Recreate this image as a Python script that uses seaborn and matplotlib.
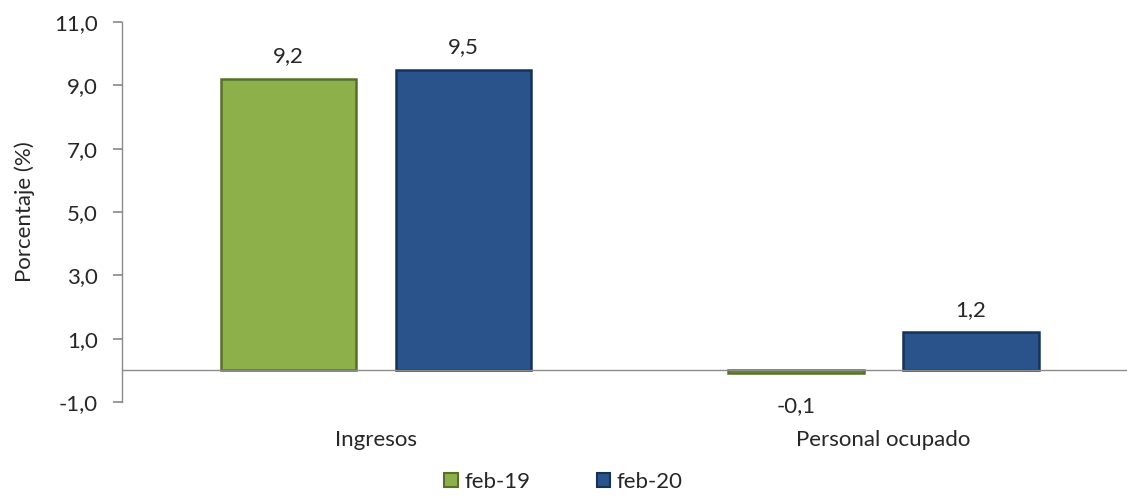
import matplotlib
matplotlib.use("Agg")
import matplotlib.pyplot as plt
import seaborn as sns
import pandas as pd
from matplotlib.patches import Patch

categories = ["Ingresos", "Personal ocupado"]
series = ["feb-19", "feb-20"]
values_feb19 = [9.2, -0.1]
values_feb20 = [9.5, 1.2]
yticks = [-1, 1, 3, 5, 7, 9, 11]

sns.set_theme(style="white")
plt.rcParams['font.family'] = ['Lato', 'DejaVu Sans']

df = pd.DataFrame({
    "cat": categories * 2,
    "serie": [series[0]] * 2 + [series[1]] * 2,
    "val": values_feb19 + values_feb20,
})

face = {"feb-19": "#8DB04A", "feb-20": "#29538A"}
edge = {"feb-19": "#56702B", "feb-20": "#16325A"}
FS = 16

fig = plt.figure(figsize=(11.27, 4.98), dpi=100)
ax = fig.add_axes([0.1083, 0.1928, 0.8917, 0.763])

sns.barplot(data=df, x="cat", y="val", hue="serie", palette=face, saturation=1,
            width=0.69, gap=0.226, ax=ax, legend=False)

for cont, s in zip(ax.containers, series):
    for bar in cont:
        bar.set_edgecolor(edge[s])
        bar.set_linewidth(1.8)
    labels = [f"{v:.1f}".replace(".", ",") for v in cont.datavalues]
    for bar, lab, v in zip(cont, labels, cont.datavalues):
        x = bar.get_x() + bar.get_width() / 2
        if v >= 0:
            ax.annotate(lab, (x, v), xytext=(0, 9), textcoords="offset points",
                        ha="center", va="bottom", fontsize=FS)
        else:
            ax.annotate(lab, (x, v), xytext=(0, -16), textcoords="offset points",
                        ha="center", va="top", fontsize=FS)

ax.set_xlim(-0.5, 1.48)
ax.set_ylim(-1, 11)
ax.set_yticks(yticks)
ax.set_yticklabels([f"{t:.1f}".replace(".", ",") for t in yticks], fontsize=FS)
ax.axhline(0, color="#8C8C8C", lw=1)
for sp in ["top", "right", "bottom"]:
    ax.spines[sp].set_visible(False)
ax.spines["left"].set_color("#8C8C8C")
ax.spines["left"].set_linewidth(1)
ax.tick_params(axis="y", which="major", direction="out", length=6.5, color="#8C8C8C",
               left=True, pad=11)
ax.tick_params(axis="x", length=0, pad=20, labelsize=FS)
ax.set_xlabel("")
ax.set_ylabel("Porcentaje (%)", fontsize=FS, labelpad=14)

handles = [Patch(facecolor=face[s], edgecolor=edge[s], linewidth=1.5) for s in series]
fig.legend(handles, series, loc="lower center", bbox_to_anchor=(0.5, -0.028), ncol=2,
           frameon=False, fontsize=FS, handlelength=0.6, handleheight=0.6,
           handletextpad=0.3, columnspacing=3.0)

fig.savefig("out.png", dpi=100)
